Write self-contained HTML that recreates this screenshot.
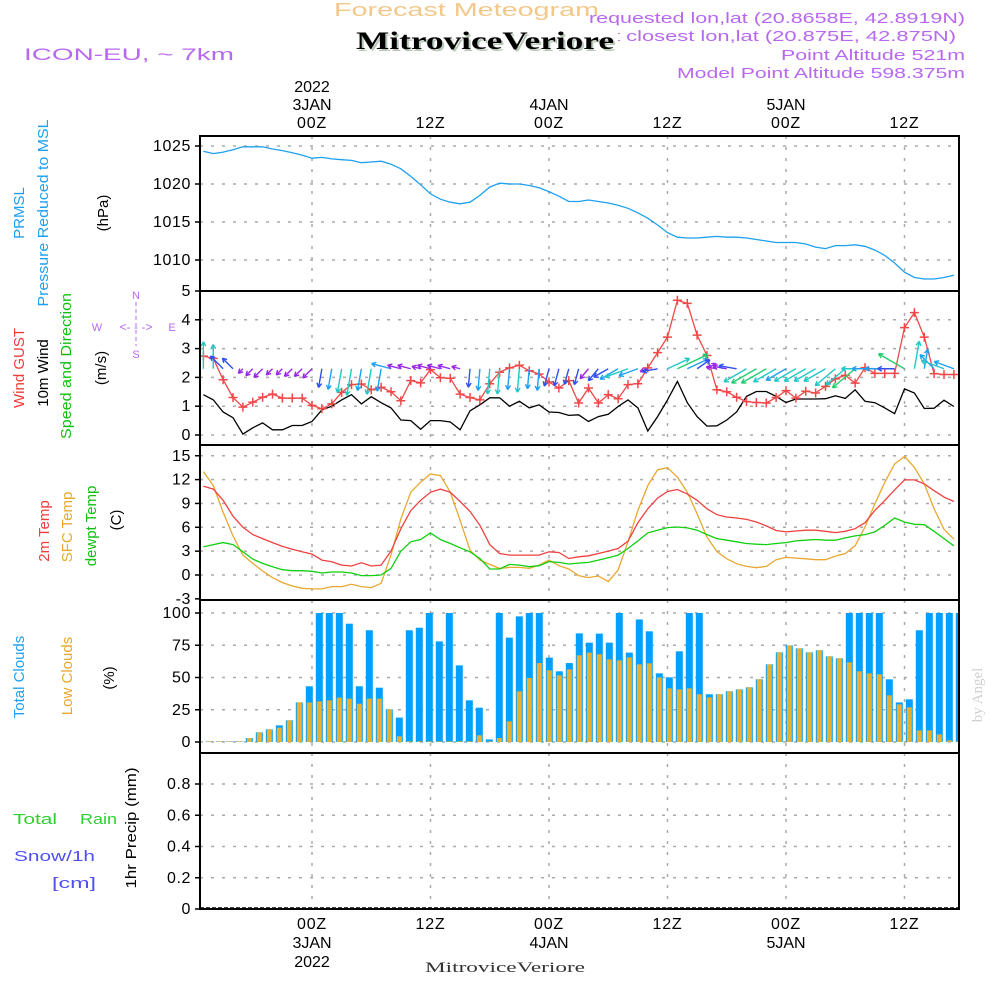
<!DOCTYPE html>
<html><head><meta charset="utf-8"><style>
html,body{margin:0;padding:0;background:#fff;}
svg{display:block;font-family:"Liberation Sans",sans-serif;}
</style></head><body>
<svg id="chart" width="1000" height="1000" viewBox="0 0 1000 1000" xmlns="http://www.w3.org/2000/svg">
<rect x="0" y="0" width="1000" height="1000" fill="#fff"/>
<g id="header">
<text x="334" y="16" textLength="265" lengthAdjust="spacingAndGlyphs" font-size="18" fill="#f3c88a">Forecast Meteogram</text>
<text x="589" y="23" textLength="376" lengthAdjust="spacingAndGlyphs" font-size="15" fill="#b868f0">requested lon,lat (20.8658E, 42.8919N)</text>
<text x="530" y="41" textLength="426" lengthAdjust="spacingAndGlyphs" font-size="15" fill="#b868f0">grid point closest lon,lat (20.875E, 42.875N)</text>
<rect x="352" y="25" width="266" height="30" fill="#fff"/>
<text x="358" y="51" textLength="258" lengthAdjust="spacingAndGlyphs" font-family="Liberation Serif,serif" font-weight="bold" font-size="25" fill="#b8c8b8">MitroviceVeriore</text>
<text x="356" y="49" textLength="258" lengthAdjust="spacingAndGlyphs" font-family="Liberation Serif,serif" font-weight="bold" font-size="25" fill="#000">MitroviceVeriore</text>
<text x="24" y="60" textLength="210" lengthAdjust="spacingAndGlyphs" font-size="17" fill="#b868f0">ICON-EU, ~ 7km</text>
<text x="781" y="60" textLength="184" lengthAdjust="spacingAndGlyphs" font-size="15" fill="#b868f0">Point Altitude 521m</text>
<text x="677" y="78" textLength="288" lengthAdjust="spacingAndGlyphs" font-size="15" fill="#b868f0">Model Point Altitude 598.375m</text>
</g>
<g id="labels" font-size="15">
<text transform="translate(24,213) rotate(-90)" text-anchor="middle" fill="#1ea0f0">PRMSL</text>
<text transform="translate(48,213) rotate(-90)" text-anchor="middle" textLength="187" lengthAdjust="spacingAndGlyphs" fill="#1ea0f0">Pressure Reduced to MSL</text>
<text transform="translate(108,213) rotate(-90)" text-anchor="middle" fill="#000">(hPa)</text>
<text transform="translate(24,368) rotate(-90)" text-anchor="middle" fill="#f03c3c">Wind GUST</text>
<text transform="translate(48,373) rotate(-90)" text-anchor="middle" fill="#000">10m Wind</text>
<text transform="translate(71,366) rotate(-90)" text-anchor="middle" textLength="146" lengthAdjust="spacingAndGlyphs" fill="#10c010">Speed and Direction</text>
<text transform="translate(106,368) rotate(-90)" text-anchor="middle" fill="#000">(m/s)</text>
<g fill="#b868f0" font-size="11" text-anchor="middle">
<text x="136" y="299">N</text><text x="97" y="331">W</text><text x="172" y="331">E</text><text x="136" y="358">S</text>
<text x="136" y="331" font-size="12">&lt;- - -&gt;</text>
<line x1="136" y1="302" x2="136" y2="346" stroke="#b868f0" stroke-dasharray="4,3"/>
</g>
<text transform="translate(49,531) rotate(-90)" text-anchor="middle" fill="#f03c3c">2m Temp</text>
<text transform="translate(72,527) rotate(-90)" text-anchor="middle" fill="#e8a830">SFC Temp</text>
<text transform="translate(96,526) rotate(-90)" text-anchor="middle" fill="#10c010">dewpt Temp</text>
<text transform="translate(121,520) rotate(-90)" text-anchor="middle" fill="#000">(C)</text>
<text transform="translate(24,677) rotate(-90)" text-anchor="middle" fill="#1ea0f0">Total Clouds</text>
<text transform="translate(72,676) rotate(-90)" text-anchor="middle" fill="#e8a830">Low Clouds</text>
<text transform="translate(114,678) rotate(-90)" text-anchor="middle" fill="#000">(%)</text>
<text x="13" y="824" fill="#30d030"><tspan textLength="44" lengthAdjust="spacingAndGlyphs">Total</tspan><tspan x="80" textLength="37" lengthAdjust="spacingAndGlyphs">Rain</tspan></text>
<text x="14" y="861" textLength="81" lengthAdjust="spacingAndGlyphs" fill="#5050f0">Snow/1h</text>
<text x="52" y="888" textLength="44" lengthAdjust="spacingAndGlyphs" fill="#5050f0">[cm]</text>
<text transform="translate(136,828) rotate(-90)" text-anchor="middle" textLength="121" lengthAdjust="spacingAndGlyphs" fill="#000">1hr Precip (mm)</text>
<text transform="translate(982,695) rotate(-90)" text-anchor="middle" font-family="Liberation Serif,serif" font-size="15" fill="#d0d0d0">by Angel</text>
<text x="425" y="972" textLength="160" lengthAdjust="spacingAndGlyphs" font-family="Liberation Serif,serif" font-size="15" fill="#333">MitroviceVeriore</text>
</g>
<g id="grid"></g>
<g id="marks"></g>
<g id="axes"></g>
</svg>
<script>
const pressure = [1024.3,1024.0,1024.2,1024.5,1024.9,1024.9,1024.9,1024.6,1024.4,1024.1,1023.8,
1023.4,1023.5,1023.3,1023.2,1023.1,1022.8,1022.9,1023.0,1022.6,1022.0,1021.0,1019.9,
1018.7,1018.0,1017.6,1017.4,1017.6,1018.5,1019.6,1020.1,1020.0,1020.0,1019.8,1019.5,
1019.0,1018.4,1017.7,1017.7,1017.9,1017.7,1017.5,1017.2,1016.8,1016.2,1015.5,1014.6,
1013.6,1013.0,1012.9,1012.9,1013.0,1013.1,1013.0,1013.0,1012.9,1012.7,1012.5,1012.3,
1012.3,1012.3,1012.1,1011.7,1011.5,1011.9,1011.9,1012.0,1011.8,1011.3,1010.6,1009.6,
1008.4,1007.7,1007.5,1007.5,1007.7,1008.0];
const wind10m = [1.4,1.22,0.8,0.6,0.03,0.25,0.42,0.18,0.18,0.33,0.33,0.47,0.87,1.0,1.22,1.4,1.08,1.33,1.12,0.94,0.52,0.5,0.2,0.5,0.5,0.45,0.18,0.84,1.05,1.29,1.29,1.0,1.17,0.94,1.05,0.8,0.78,0.68,0.7,0.47,
0.64,0.72,0.99,1.22,0.94,0.14,0.64,1.22,1.86,1.12,0.64,0.31,0.32,0.52,0.8,1.34,1.51,1.51,1.34,1.13,1.25,1.25,1.25,1.26,1.36,1.27,1.57,1.17,1.12,0.94,0.74,1.6,1.46,0.92,0.93,1.21,0.99];
const gust = [2.74,2.66,1.92,1.3,0.97,1.14,1.31,1.42,1.28,1.28,1.28,1.03,0.91,1.08,1.48,1.75,1.77,1.57,1.66,1.5,1.19,1.89,1.81,2.27,1.99,1.97,1.42,1.3,1.22,1.78,2.18,2.33,2.42,2.23,2.12,1.84,1.63,1.89,1.11,1.63,
1.11,1.4,1.26,1.75,1.78,2.33,2.86,3.4,4.68,4.57,3.47,2.76,1.57,1.5,1.31,1.16,1.13,1.11,1.3,1.54,1.28,1.52,1.46,1.69,1.95,2.07,1.8,2.34,2.14,2.14,2.14,3.73,4.25,3.4,2.13,2.1,2.1];
const windDir = [90,90,135,135,225,225,225,225,225,225,225,225,260,260,260,260,260,260,260,165,165,165,165,165,165,165,165,265,265,265,265,265,265,265,265,255,255,255,255,230,230,210,210,200,200,200,190,25,25,25,35,30,170,170,170,210,210,210,210,210,210,210,210,210,220,220,220,180,180,180,180,150,80,80,135,160,160];
const temp2m = [11.16,10.8,9.4,7.4,6.0,5.08,4.58,4.08,3.6,3.25,2.92,2.63,1.87,1.67,1.25,1.13,1.54,1.13,1.25,3.0,5.83,8.1,9.4,10.4,10.8,10.4,9.25,8.0,6.25,3.83,2.7,2.5,2.5,2.5,2.5,2.92,2.83,2.08,2.29,
2.42,2.71,3.0,3.33,4.25,6.58,8.33,9.67,10.5,10.75,10.2,9.4,8.33,7.58,7.3,7.17,7.0,6.67,6.17,5.6,5.42,5.54,5.63,5.63,5.5,5.33,5.5,5.83,6.58,8.13,9.38,10.7,11.96,11.96,11.46,10.6,9.8,9.25];
const sfcTemp = [13,11.25,7.9,4.92,2.5,1.46,0.5,-0.33,-0.96,-1.38,-1.67,-1.75,-1.75,-1.46,-1.46,-1.17,-1.46,-1.58,-1.04,2.5,7.08,10.42,11.67,12.7,12.5,10.42,6.88,3.13,1.87,1.33,0.83,0.96,0.96,0.83,1.25,1.87,1.17,0.75,-0.08,
-0.33,-0.13,-0.83,0.63,4.17,8.13,11.25,13.25,13.5,12.3,10.42,7.7,4.75,2.96,2.04,1.42,1.08,0.92,1.08,1.92,2.21,2.13,2.04,1.92,1.92,2.38,2.71,3.67,6.04,8.96,11.67,13.96,14.92,13.54,11.46,8.33,5.75,4.5];
const dewpt = [3.54,3.83,4.08,3.83,2.92,2.0,1.46,1.04,0.67,0.54,0.54,0.46,0.25,0.38,0.38,0.25,-0.08,-0.08,0,0.83,3.0,4.17,4.46,5.29,4.46,3.96,3.42,2.92,2.08,0.75,0.75,1.33,1.25,1.04,1.17,1.67,1.58,1.38,1.5,
1.58,1.88,2.17,2.5,3.33,4.29,5.29,5.63,5.96,6.04,5.92,5.63,5.08,4.58,4.38,4.17,3.96,3.88,3.83,3.96,4.08,4.29,4.38,4.46,4.38,4.38,4.67,4.92,5.08,5.42,6.25,7.17,6.67,6.38,6.33,5.5,4.58,3.67];
const totalClouds = [0.5,0.5,0.5,0.5,3.1,7.5,9.8,12.9,16.8,30.7,43.2,100,100,100,91.7,43.2,86.6,42.1,25.3,18.9,86.6,88.6,100,78,100,59.4,32.3,26.6,2,100,80.9,97.4,100,100,65.4,54.8,61.2,84.2,
77,84,77,100,69.3,95,85.8,53.2,50.1,70.3,100,100,37,37,39.3,40.8,42.4,48.6,60.2,69.5,74.9,72.6,69.5,71.1,66.4,64.9,100,100,100,100,48.6,30.7,33.1,86.6,100,100,100,100];
const lowClouds = [0.5,0.5,0.5,0.5,3.1,7.5,9.8,11.1,16.8,30.7,30.7,31.5,32.3,34.4,33.6,29.7,33.6,33.6,25.3,4.4,0.5,0.5,0.5,0.5,0.5,0.5,0.5,5.2,0.5,3.1,16,39.3,49.6,61.2,55.6,51.7,56.3,67.2,
69.3,68,64,63.3,65.6,60.2,61,50.1,41.6,40.8,41.6,37,34.6,37,39.3,40.8,42.4,48.6,60.2,69.5,74.9,72.6,69.5,71.1,66.4,64.9,61.8,54.8,53.2,52.5,36.2,29.2,26.9,9,9,5.9,1.3,0.5];
const precip = [];
const pressureTicks = [1010,1015,1020,1025];
const windTicks = [0,1,2,3,4,5];
const tempTicks = [-3,0,3,6,9,12,15];
const cloudTicks = [0,25,50,75,100];
const precipTicks = [0,0.2,0.4,0.6,0.8];
const precipTickLabels = ["0","0.2","0.4","0.6","0.8"];
const timeTicks = [0,12,24,36,48,60];
const timeTickLabels = ["00Z","12Z","00Z","12Z","00Z","12Z"];
const dayLabels = {0:"3JAN",24:"4JAN",48:"5JAN"};
const firstHour = -11;

const NS = "http://www.w3.org/2000/svg";
const L = 200, R = 959;
function xTime(h){ return 312 + h*9.875; }
function xBar(i){ return 209.3 + i*10; }
function yP(p){ return 146 + (1025-p)*7.6; }
function yW(v){ return 435 - v*28.8; }
function yT(t){ return 575 - t*7.95; }
function yC(c){ return 742 - c*1.29; }
function yR(p){ return 909 - p*156.25; }
function mk(tag, attrs, parent){ const e=document.createElementNS(NS,tag); for(const k in attrs) e.setAttribute(k,attrs[k]); parent.appendChild(e); return e; }
const grid=document.getElementById('grid'), marks=document.getElementById('marks'), axes=document.getElementById('axes');
const hourOf = i => firstHour + i;

const panels = [
 {top:136,bot:291,ticks:pressureTicks,f:yP,labels:pressureTicks.map(String),name:'pressure'},
 {top:291,bot:445,ticks:windTicks,f:yW,labels:windTicks.map(String),name:'wind'},
 {top:445,bot:600,ticks:tempTicks,f:yT,labels:tempTicks.map(String),name:'temp'},
 {top:600,bot:753,ticks:cloudTicks,f:yC,labels:cloudTicks.map(String),name:'cloud'},
 {top:753,bot:909,ticks:precipTicks,f:yR,labels:precipTickLabels,name:'precip'}
];
panels.forEach(p=>{
  p.ticks.forEach((t,i)=>{
    const y=p.f(t);
    if(y>p.top+3 && y<p.bot-3){
      const gl=mk('line',{x1:L,x2:R,y1:y,y2:y,stroke:'#aaa','stroke-width':1.5,'stroke-dasharray':'3,8'},grid);
      
      
    }
    const tk=mk('line',{x1:195,x2:L,y1:y,y2:y,stroke:'#000','stroke-width':1.5},axes);
    
    
    const tl=mk('text',{x:191,y:y+5,'text-anchor':'end','font-size':16,fill:'#000','letter-spacing':0.6},axes);
    tl.textContent=p.labels[i];
    
    
  });
  timeTicks.forEach(h=>{
    const vl=mk('line',{x1:xTime(h),x2:xTime(h),y1:p.top,y2:p.bot,stroke:'#aaa','stroke-width':1.5,'stroke-dasharray':'3,8'},grid);
    
    
  });
});
[136,291,445,600,753,909].forEach(y=>{
  const fl=mk('line',{x1:L-1,x2:R+1,y1:y,y2:y,stroke:'#000','stroke-width':2},axes);
  
  
});
[L,R].forEach(x=>{
  const vl=mk('line',{x1:x,x2:x,y1:136,y2:909,stroke:'#000','stroke-width':2},axes);
  
  
});
timeTicks.forEach((h,i)=>{
  const x=xTime(h);
  const t1=mk('text',{x:x,y:128,'text-anchor':'middle','font-size':16,fill:'#000','letter-spacing':0.8},axes);
  t1.textContent=timeTickLabels[i];
  
  
  const t2=mk('text',{x:x,y:929,'text-anchor':'middle','font-size':16,fill:'#000','letter-spacing':0.8},axes);
  t2.textContent=timeTickLabels[i];
  
  
  if(dayLabels[h]){
    const d1=mk('text',{x:x,y:110,'text-anchor':'middle','font-size':16,fill:'#000'},axes);
    d1.textContent=dayLabels[h];
    
    
    const d2=mk('text',{x:x,y:948,'text-anchor':'middle','font-size':16,fill:'#000'},axes);
    d2.textContent=dayLabels[h];
    
    
  }
});
[[92],[967]].forEach(([y])=>{
  const yr=mk('text',{x:xTime(0),y:y,'text-anchor':'middle','font-size':16,fill:'#000'},axes);
  yr.textContent='2022';
  
  
});
function line(arr, yf, color, name, w){
  const pts=arr.map((v,i)=>xTime(hourOf(i)).toFixed(1)+','+yf(v).toFixed(1)).join(' ');
  const pl=mk('polyline',{points:pts,fill:'none',stroke:color,'stroke-width':w||1.3},marks);
  
  
}
line(pressure,yP,'#1ea0f0','pressure-line');
const clip=mk('clipPath',{id:'plotclip'},document.getElementById('chart'));
mk('rect',{x:L,y:136,width:R-L,height:773},clip);
const barG=mk('g',{'clip-path':'url(#plotclip)'},marks);


totalClouds.forEach((c,i)=>{
  const x=xBar(i);
  const b=mk('rect',{x:x-3.5,y:yC(c),width:7,height:yC(0)-yC(c),fill:'#00a0ff'},barG);
  
  
});
lowClouds.forEach((c,i)=>{
  const x=xBar(i);
  const b=mk('rect',{x:x-2.5,y:yC(c),width:5,height:yC(0)-yC(c),fill:'#e8b030'},barG);
  
  
});
line(sfcTemp,yT,'#e8a830','sfc-temp-line');
line(temp2m,yT,'#f04040','temp2m-line');
line(dewpt,yT,'#10d010','dewpt-line');
line(wind10m,yW,'#000','wind10m-line');
line(gust,yW,'#f04848','gust-line');
gust.forEach((g,i)=>{
  const x=xTime(hourOf(i)), y=yW(g);
  const m=mk('path',{d:`M${x-4.5},${y}H${x+4.5}M${x},${y-4.5}V${y+4.5}`,stroke:'#f04848','stroke-width':1.5},marks);
  
  
});
function windColor(s){ if(s<0.55) return '#9a28e6'; if(s<0.9) return '#3050f0'; if(s<1.15) return '#1ea0f0'; if(s<1.5) return '#20c8c8'; return '#20d070'; }
windDir.forEach((d,i)=>{
  const s=wind10m[i]; const x=xTime(hourOf(i)), y=yW(2.3);
  const len=6+15*s, a=d*Math.PI/180;
  const tx=x+len*Math.cos(a), ty=y-len*Math.sin(a);
  const h1=a+Math.PI-0.5, h2=a+Math.PI+0.5;
  const c=windColor(s);
  const ar=mk('path',{d:`M${x},${y}L${tx},${ty}M${tx},${ty}L${tx+5*Math.cos(h1)},${ty-5*Math.sin(h1)}M${tx},${ty}L${tx+5*Math.cos(h2)},${ty-5*Math.sin(h2)}`,stroke:c,'stroke-width':1.4,fill:'none'},marks);
  
  
});
const pz=mk('line',{x1:L,x2:R,y1:yR(0)-1,y2:yR(0)-1,stroke:'#000','stroke-width':1.5,'stroke-dasharray':'4,2'},marks);


</script>
</body></html>
